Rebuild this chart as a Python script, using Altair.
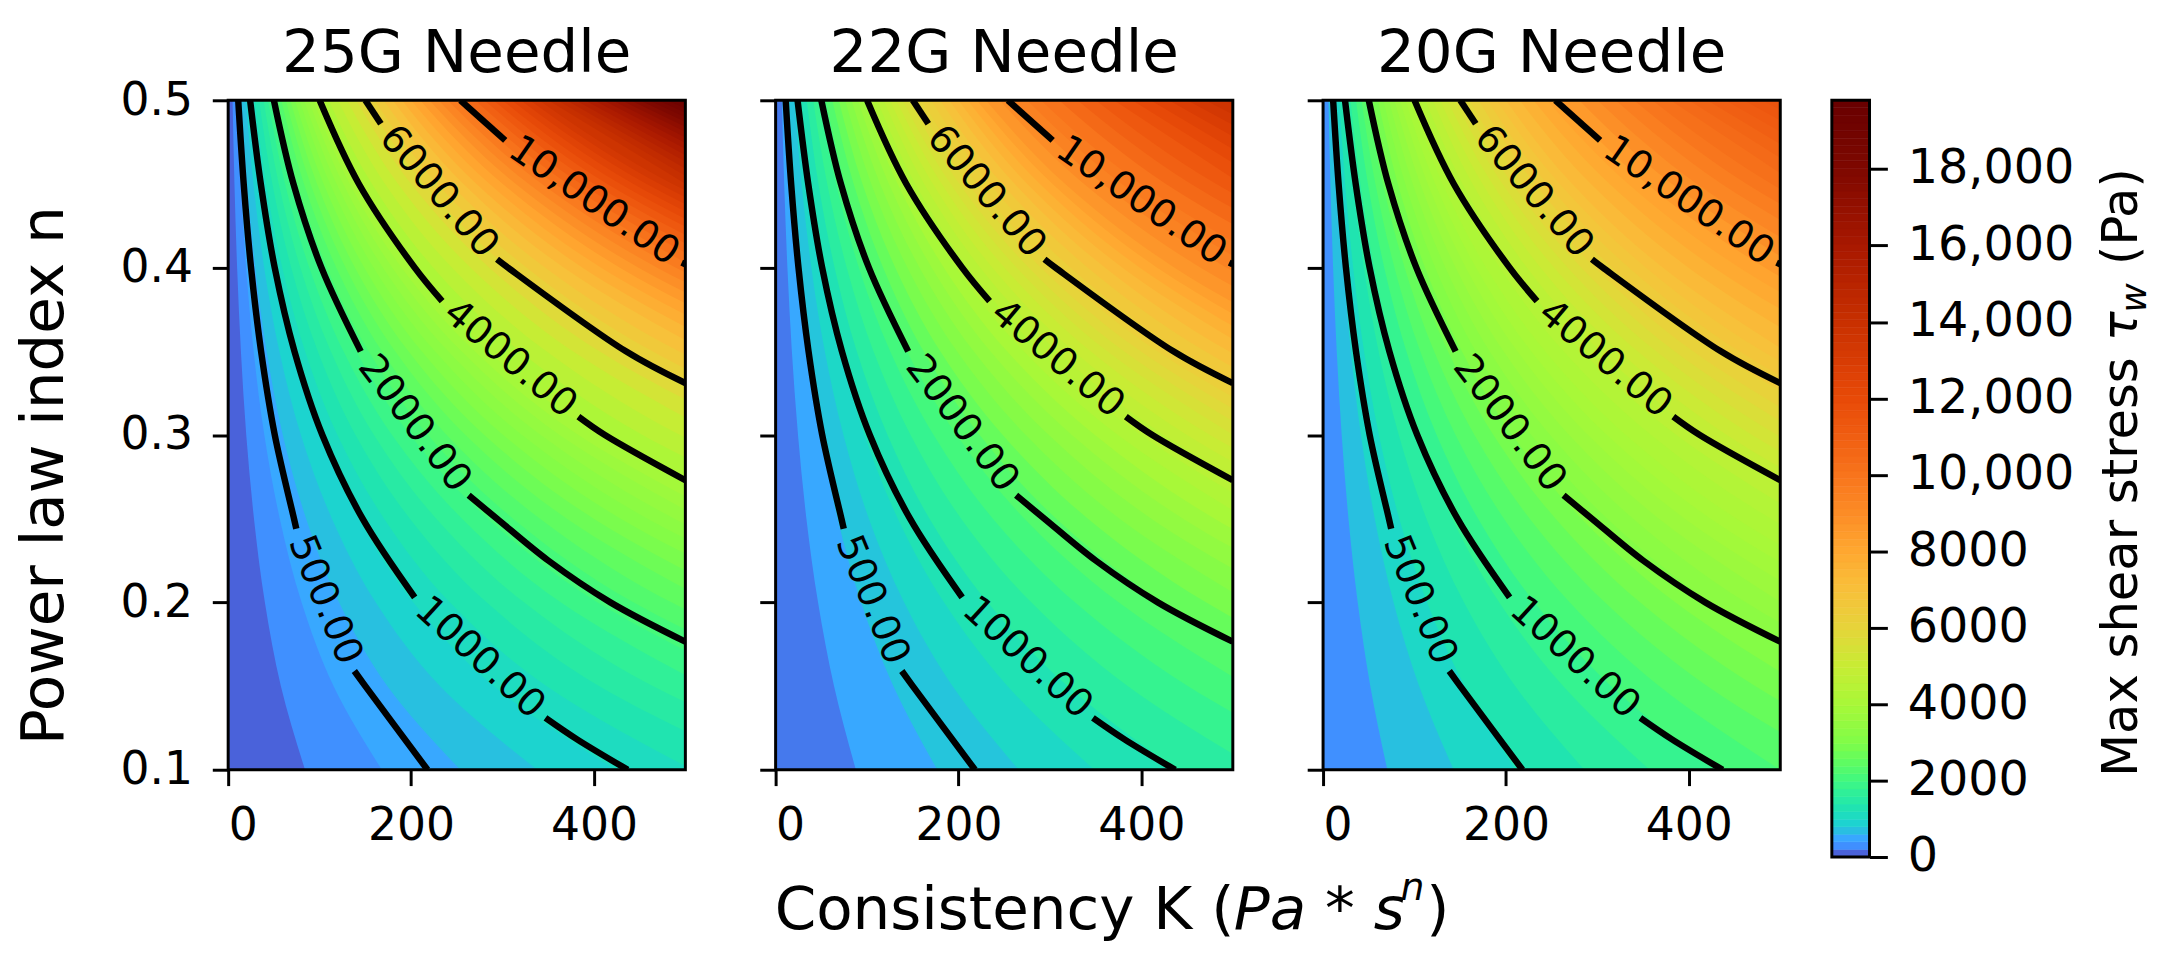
import altair as alt
import pandas as pd

FONT = "DejaVu Sans"
TITLES = ["25G Needle", "22G Needle", "20G Needle"]

# Colour bar: value -> colour
CB_VALUES = [100, 300, 500, 700, 900, 1300, 1700, 2000, 2500, 3000, 4000, 5000, 6000, 7000, 8000,
             9000, 10000, 11000, 12000, 13000, 14000, 15000, 16000, 17000, 18000, 19800]
CB_COLORS = ["#4a62da", "#4090ff", "#38a8ff", "#28c0e0", "#1cd4cf", "#20e4b0", "#30f098", "#40f880",
             "#60fc60", "#80fc48", "#a8f838", "#c8ec34", "#e6d43a", "#f8c03a", "#ffa830", "#fc8c26",
             "#f8741c", "#f05e12", "#e84a08", "#d83c04", "#c83000", "#b82400", "#a81800", "#941000",
             "#7e0800", "#680000"]
CB_STEPS = [198 * i for i in range(100)]
CB_TICKS = [0, 2000, 4000, 6000, 8000, 10000, 12000, 14000, 16000, 18000]

# Filled bands.  Each band edge is given by where it meets the top
# edge of the panel (K at n = 0.5), with the colour value of the band lying to the right of it.
# ROW_STRETCH says how far an edge has moved to the right at each row of N_ROWS.
N_ROWS = [0.5, 0.45, 0.4, 0.35, 0.3, 0.25, 0.2, 0.15, 0.1]
ROW_STRETCH = [
    [1, 1.43, 2.04, 2.9, 4.12, 5.88, 8.36, 12, 17.5],
    [1, 1.377, 1.897, 2.61, 3.6, 4.95, 6.82, 9.39, 12.9],
    [1, 1.363, 1.859, 2.53, 3.45, 4.71, 6.42, 8.75, 11.9],
]
TOP_K_25G = [0, 4.8, 9.6, 14.5, 19.3, 24.2, 29, 33.8, 38.7, 43.5, 48.3, 53, 58, 63, 68, 73, 78, 83, 88, 93,
             98, 110, 120, 130, 140, 150, 160, 170, 180, 190, 200, 210, 220, 230, 240, 250, 260, 270, 280,
             290, 300, 310, 320, 330, 340, 350, 360, 370, 380, 390, 400, 410, 420, 430, 440, 450, 460, 470,
             480, 490]
FILL_25G = [100, 300, 500, 700, 900, 1100, 1300, 1500, 1700, 1900, 2100, 2300, 2500, 2700, 2900, 3100, 3300,
            3500, 3700, 3900, 4150, 4550, 4950, 5350, 5750, 6150, 6550, 6950, 7350, 7750, 8100, 8500, 8900,
            9300, 9700, 10100, 10500, 10900, 11300, 11700, 12100, 12500, 12900, 13300, 13700, 14100, 14450,
            14850, 15250, 15650, 16050, 16450, 16850, 17250, 17650, 18000, 18400, 18800, 19200, 19600]
TOP_K_22G = [0, 6.8, 13.7, 20.6, 27, 34, 41, 48, 55, 62, 69, 76, 83, 90, 97, 104, 111, 118, 125, 132, 139,
             146, 153, 160, 170, 180, 190, 200, 210, 220, 230, 245, 260, 275, 290, 310, 330, 350, 370, 390,
             410, 430, 450, 470, 490]
FILL_22G = [200, 500, 750, 1000, 1250, 1550, 1800, 2050, 2300, 2600, 2900, 3150, 3450, 3700, 4000, 4250, 4500,
            4750, 5000, 5250, 5500, 5750, 6000, 6250, 6550, 6900, 7250, 7600, 7950, 8300, 8650, 9000, 9400,
            9700, 10000, 10500, 10900, 11300, 11700, 12100, 12500, 12900, 13300, 13700, 14000]
TOP_K_20G = [0, 5.9, 12, 17.7, 24, 30, 36, 42, 48, 54, 60, 66, 72, 78, 84, 90, 96, 104, 112, 120, 128, 136,
             144, 152, 160, 170, 180, 190, 200, 215, 230, 245, 260, 280, 300, 320, 340, 360, 380, 400, 420,
             440, 460, 480]
FILL_20G = [300, 700, 1000, 1300, 1550, 1800, 2100, 2350, 2600, 2850, 3100, 3300, 3500, 3700, 3850, 4000, 4150,
            4350, 4600, 4850, 5100, 5350, 5600, 5850, 6100, 6450, 6700, 6950, 7250, 7600, 7900, 8150, 8500,
            8900, 9250, 9600, 9900, 10200, 10450, 10700, 10950, 11150, 11350, 11500]
TOP_K = [TOP_K_25G, TOP_K_22G, TOP_K_20G]
FILLS = [FILL_25G, FILL_22G, FILL_20G]

# Black contour lines (same in all panels), broken where the inline label sits
CONTOUR_LEVEL = ["500a", "500b", "1000a", "1000b", "2000a", "2000b", "4000a", "4000b", "6000a", "6000b", "10000a", "10000b"]
CONTOUR_K = [
    [11, 17, 25, 36, 51, 72, 74.5], [138, 150, 218],
    [24, 35.7, 50.9, 72.5, 103, 147, 204], [347, 382, 437],
    [50, 71.4, 102, 145], [263, 294, 350, 418, 500],
    [100, 143, 204, 234], [383, 412, 500],
    [150, 167], [294, 306, 435, 500],
    [254, 303], [496, 500],
]
CONTOUR_N = [
    [0.5, 0.45, 0.4, 0.35, 0.3, 0.25, 0.244], [0.159, 0.15, 0.1],
    [0.5, 0.45, 0.4, 0.35, 0.3, 0.25, 0.203], [0.131, 0.118, 0.1],
    [0.5, 0.45, 0.4, 0.35], [0.264, 0.25, 0.225, 0.2, 0.1765],
    [0.5, 0.45, 0.4, 0.38], [0.311, 0.3, 0.273],
    [0.5, 0.486], [0.405, 0.4, 0.35, 0.331],
    [0.5, 0.476], [0.403, 0.402],
]
LABEL_TEXT = ["500.00", "1000.00", "2000.00", "4000.00", "6000.00", "10,000.00"]
LABEL_K = [106, 275.5, 204, 308.5, 230.5, 400]
LABEL_N = [0.2015, 0.167, 0.307, 0.3455, 0.4455, 0.44]
LABEL_ANGLE = [67.7, 42.5, 53, 40, 49.5, 34.6]

PW, PH = 461, 675
color_scale = alt.Scale(domain=CB_VALUES, range=CB_COLORS, interpolate="rgb", clamp=True)
x_scale = alt.Scale(domain=[0, 500], nice=False)
y_scale = alt.Scale(domain=[0.1, 0.5], nice=False)


def bands_for(p):
    rows = []
    for b, (top, fill) in enumerate(zip(TOP_K[p], FILLS[p])):
        for n, stretch in zip(N_ROWS, ROW_STRETCH[p]):
            k = top * stretch
            rows.append({"band": b, "fill": fill, "n": n, "K": k, "Kend": 500})
            if k > 500:
                break
    return pd.DataFrame(rows)


contour_df = pd.DataFrame(
    [{"seg": s, "K": k, "n": n}
     for s, ks, ns in zip(CONTOUR_LEVEL, CONTOUR_K, CONTOUR_N)
     for k, n in zip(ks, ns)]
)
label_df = pd.DataFrame({"t": LABEL_TEXT, "K": LABEL_K, "n": LABEL_N, "a": LABEL_ANGLE})
one = pd.DataFrame({"a": [0]})


def frame(w, h):
    return alt.Chart(one).mark_rect(
        filled=False, stroke="black", strokeWidth=3
    ).encode(x=alt.value(0), x2=alt.value(w), y=alt.value(0), y2=alt.value(h))


def piece(text, x, y, size=60, style="normal", angle=0, align="left"):
    return alt.Chart(one).mark_text(
        font=FONT, fontSize=size, fontStyle=style, align=align, baseline="alphabetic",
        angle=angle, color="black"
    ).encode(x=alt.value(x), y=alt.value(y), text=alt.value(text))


def spacer(w):
    return alt.Chart(one).mark_point(opacity=0).encode(x=alt.value(0), y=alt.value(0)).properties(width=w, height=PH)


def panel(p):
    y_axis = alt.Axis(values=[0.1, 0.2, 0.3, 0.4, 0.5], format=".1f", title="Power law index n" if p == 0 else None,
                      labels=p == 0, tickSize=16, tickWidth=3, tickColor="black", domain=False, grid=False,
                      labelFontSize=46, labelFont=FONT, labelPadding=20, labelColor="black",
                      titleFontSize=60, titleFont=FONT, titleFontWeight="normal", titlePadding=45, titleColor="black",
                      titleY=378)
    x_axis = alt.Axis(values=[0, 200, 400], title=None, tickSize=16, tickWidth=3, tickColor="black", domain=False,
                      grid=False, labelFontSize=46, labelFont=FONT, labelPadding=18, labelColor="black")
    x_enc = alt.X("K:Q", scale=x_scale, axis=x_axis)
    y_enc = alt.Y("n:Q", scale=y_scale, axis=y_axis)
    area = alt.Chart(bands_for(p)).mark_area(interpolate="monotone", clip=True, orient="horizontal").encode(
        y=y_enc,
        x=x_enc,
        x2="Kend:Q",
        color=alt.Color("fill:Q", scale=color_scale, legend=None),
        detail="band:N",
    )
    lines = alt.Chart(contour_df).mark_line(
        interpolate="catmull-rom", clip=True, color="black", strokeWidth=6.5, strokeCap="butt"
    ).encode(x=x_enc, y=y_enc, detail="seg:N")
    labels = alt.Chart(label_df).mark_text(font=FONT, fontSize=39, color="black", align="center", baseline="middle").encode(
        x=x_enc,
        y=y_enc,
        text="t:N",
        angle=alt.Angle("a:Q", scale=None),
    )
    layers = [area, lines, labels, frame(PW, PH), piece(TITLES[p], PW / 2, -29, align="center")]
    if p == 1:
        layers += [
            piece("Consistency K (", -1, 836),
            piece("Pa * s", 462, 836, style="italic"),
            piece("n", 630, 806, size=38, style="italic"),
            piece(")", 656, 836),
        ]
    return alt.layer(*layers).properties(width=PW, height=PH)


cb_df = pd.DataFrame({"v": CB_STEPS})
cb_df["v2"] = cb_df["v"] + 198
cb_df["m"] = cb_df["v"] + 99
colorbar = alt.layer(
    alt.Chart(cb_df).mark_rect(strokeWidth=0.6).encode(
        x=alt.value(0), x2=alt.value(38),
        y=alt.Y("v:Q", scale=alt.Scale(domain=[0, 19800], nice=False),
                axis=alt.Axis(orient="right", values=CB_TICKS, title=None, domain=False, grid=False,
                              tickSize=18, tickWidth=3, tickColor="black",
                              labelExpr="datum.value >= 10000 ? format(datum.value, ',') : format(datum.value, 'd')",
                              labelFontSize=48, labelFont=FONT, labelPadding=20, labelColor="black")),
        y2="v2:Q",
        color=alt.Color("m:Q", scale=color_scale, legend=None),
        stroke=alt.Stroke("m:Q", scale=color_scale, legend=None),
    ),
    frame(38, 763),
    piece("Max shear stress ", 308, 682, size=50, angle=270),
    piece("τ", 308, 243, size=50, style="italic", angle=270),
    piece("w", 317, 214, size=36, style="italic", angle=270),
    piece("(Pa)", 308, 166, size=50, angle=270),
).properties(width=38, height=763)

chart = alt.hconcat(
    panel(0), spacer(91), panel(1), spacer(91), panel(2), spacer(52), colorbar,
    spacing=0, bounds="flush",
).properties(
    padding={"left": 6, "top": 12, "right": 20, "bottom": 40}
).configure_view(stroke=None).resolve_scale(color="independent")

chart.save("out.html", embed_options={"renderer": "svg", "actions": False})
